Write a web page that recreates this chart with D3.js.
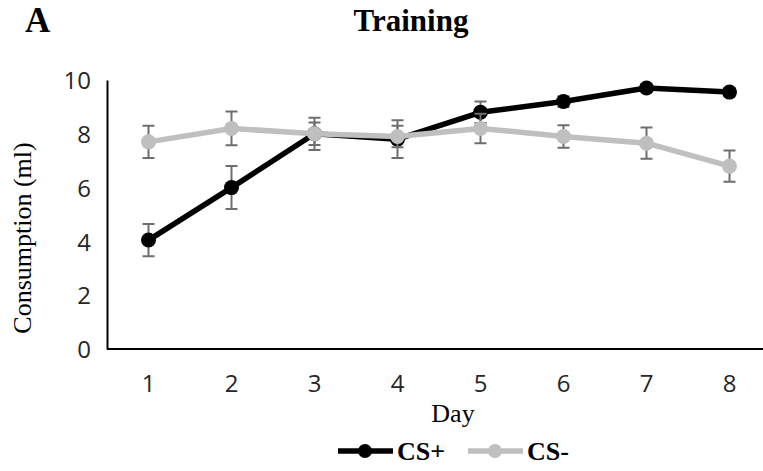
<!DOCTYPE html>
<html>
<head>
<meta charset="utf-8">
<script src="https://cdn.jsdelivr.net/npm/d3@7"></script>
<style>
  body { margin: 0; background: #fff; }
  .tick text { font-family: "Open Sans", sans-serif; font-size: 24px; fill: #262626; }
  .axis path { stroke: #000; stroke-width: 2; }
</style>
</head>
<body>
<div id="chart"></div>
<script>
// Data
var days = [1, 2, 3, 4, 5, 6, 7, 8];
var csPlus = [4.05, 6.0, 8.0, 7.8, 8.8, 9.2, 9.7, 9.55];
var csPlusErr = [0.6, 0.8, 0.6, 0.7, 0.4, 0.2, 0.15, 0.15];
var csMinus = [7.7, 8.2, 8.0, 7.9, 8.2, 7.9, 7.65, 6.8];
var csMinusErr = [0.6, 0.63, 0.42, 0.4, 0.55, 0.42, 0.58, 0.58];
var yTicks = [0, 2, 4, 6, 8, 10];

var svgWdt = 763;
var svgHgt = 471;
var margins = { top: 80, left: 107, bottom: 122 };
var step = 83;

var svg = d3.select("#chart").append("svg")
    .attr("width", svgWdt)
    .attr("height", svgHgt);

// scales
var xScale = d3.scaleBand().domain(days)
    .range([margins.left, margins.left + step * days.length]);
var yScale = d3.scaleLinear().domain([0, 10])
    .range([svgHgt - margins.bottom, margins.top]);
var xc = d => xScale(d) + xScale.bandwidth() / 2;

// axes
svg.append("g").attr("class", "axis")
    .attr("transform", `translate(0, ${yScale(0)})`)
    .call(d3.axisBottom(xScale).tickSize(0).tickPadding(26))
    .call(g => g.select(".domain").attr("d", `M${margins.left},0H${svgWdt + 10}`));

svg.append("g").attr("class", "axis")
    .attr("transform", `translate(${margins.left}, 0)`)
    .call(d3.axisLeft(yScale).tickValues(yTicks).tickSize(0).tickPadding(16))
    .call(g => g.selectAll(".tick text").attr("dy", "0.36em"));

// series
var series = [
    { name: "CS+", vals: csPlus, err: csPlusErr, color: "#000000" },
    { name: "CS-", vals: csMinus, err: csMinusErr, color: "#bfbfbf" }
];

var line = d3.line().x((d, i) => xc(days[i])).y(d => yScale(d));

series.forEach(s => {
    var g = svg.append("g");
    // error bars
    days.forEach((d, i) => {
        var x = xc(d), y0 = yScale(s.vals[i] - s.err[i]), y1 = yScale(s.vals[i] + s.err[i]);
        g.append("path")
            .attr("d", `M${x},${y0}V${y1}M${x - 6},${y0}H${x + 6}M${x - 6},${y1}H${x + 6}`)
            .attr("stroke", "#6e6e6e")
            .attr("stroke-width", 2)
            .attr("fill", "none");
    });
    g.append("path")
        .datum(s.vals)
        .attr("d", line)
        .attr("fill", "none")
        .attr("stroke", s.color)
        .attr("stroke-width", 5.5)
        .attr("stroke-linejoin", "round");
    g.selectAll("circle").data(s.vals)
        .enter()
        .append("circle")
            .attr("cx", (d, i) => xc(days[i]))
            .attr("cy", d => yScale(d))
            .attr("r", 7.5)
            .attr("fill", s.color);
});

// titles
svg.append("text")
    .attr("x", 25).attr("y", 32)
    .attr("font-family", "Liberation Serif, serif")
    .attr("font-weight", "bold")
    .attr("font-size", 35)
    .text("A");

svg.append("text")
    .attr("x", 411).attr("y", 31)
    .attr("text-anchor", "middle")
    .attr("font-family", "Liberation Serif, serif")
    .attr("font-weight", "bold")
    .attr("font-size", 31)
    .text("Training");

svg.append("text")
    .attr("transform", `translate(31, ${238}) rotate(-90)`)
    .attr("text-anchor", "middle")
    .attr("font-family", "Liberation Serif, serif")
    .attr("font-size", 26)
    .text("Consumption (ml)");

svg.append("text")
    .attr("x", 453).attr("y", 422)
    .attr("text-anchor", "middle")
    .attr("font-family", "Liberation Serif, serif")
    .attr("font-size", 26)
    .text("Day");

// legend
var legX = [338, 468];
series.forEach((s, i) => {
    var lg = svg.append("g").attr("transform", `translate(${legX[i]}, 451)`);
    lg.append("line")
        .attr("x1", 0).attr("x2", 55)
        .attr("stroke", s.color)
        .attr("stroke-width", 5.5);
    lg.append("circle")
        .attr("cx", 27).attr("r", 7)
        .attr("fill", s.color);
    lg.append("text")
        .attr("x", 59).attr("y", 9)
        .attr("font-family", "Liberation Serif, serif")
        .attr("font-weight", "bold")
        .attr("font-size", 26)
        .text(s.name);
});
</script>
</body>
</html>
